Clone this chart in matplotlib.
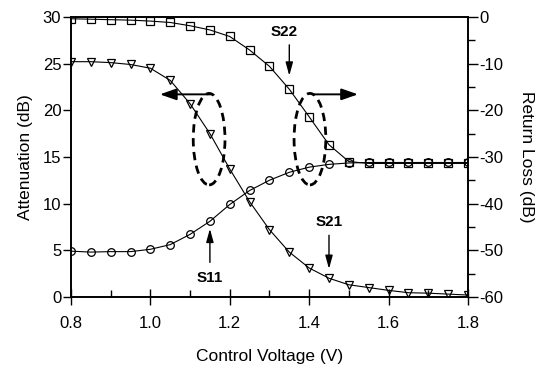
import numpy as np
import matplotlib.pyplot as plt
from matplotlib.patches import Ellipse
from matplotlib.ticker import MultipleLocator

plt.rcParams['font.family'] = ['Liberation Sans Narrow', 'Liberation Sans', 'DejaVu Sans']
plt.rcParams['axes.unicode_minus'] = False

# control voltage (V)
volt = [0.80, 0.85, 0.90, 0.95, 1.00, 1.05, 1.10, 1.15, 1.20, 1.25, 1.30,
        1.35, 1.40, 1.45, 1.50, 1.55, 1.60, 1.65, 1.70, 1.75, 1.80]
# S21 attenuation (dB), left axis
s21 = [25.2, 25.2, 25.1, 24.9, 24.5, 23.2, 20.7, 17.5, 13.7, 10.2, 7.2,
       4.8, 3.1, 2.0, 1.3, 1.0, 0.7, 0.45, 0.4, 0.3, 0.2]
# S11 return loss (dB), right axis
s11 = [-50.2, -50.4, -50.3, -50.3, -49.8, -48.8, -46.6, -43.8, -40.2, -37.2, -35.0,
       -33.3, -32.2, -31.6, -31.3, -31.2, -31.2, -31.2, -31.2, -31.2, -31.2]
# S22 return loss (dB), right axis
s22 = [-0.4, -0.5, -0.6, -0.7, -0.9, -1.2, -1.9, -2.8, -4.2, -7.1, -10.6,
       -15.5, -21.4, -27.4, -31.0, -31.4, -31.4, -31.4, -31.4, -31.4, -31.4]

fig = plt.figure(figsize=(5.46, 3.67), dpi=100)
ax = fig.add_axes([0.130, 0.191, 0.727, 0.763])
ax2 = ax.twinx()

kw = dict(color='black', lw=0.8, mfc='none', mec='black', mew=0.9, ms=5.5)
ax.plot(volt, s21, marker='v', **kw)
ax2.plot(volt, s11, marker='o', **kw)
ax2.plot(volt, s22, marker='s', **kw)

ax.set_xlim(0.8, 1.8)
ax.set_ylim(0, 30)
ax2.set_ylim(-60, 0)

ax.xaxis.set_major_locator(MultipleLocator(0.2))
ax.xaxis.set_minor_locator(MultipleLocator(0.1))
ax.yaxis.set_major_locator(MultipleLocator(5))
ax2.yaxis.set_major_locator(MultipleLocator(10))
ax2.yaxis.set_minor_locator(MultipleLocator(5))
ax.xaxis.set_major_formatter(plt.FuncFormatter(lambda v, p: f'{v:.1f}'))

ax.tick_params(axis='x', which='major', direction='inout', length=12, width=1, labelsize=12, pad=8)
ax.tick_params(axis='x', which='minor', direction='in', length=5, width=1)
ax.tick_params(axis='y', which='major', direction='out', length=6, width=1, labelsize=12, pad=1)
ax2.tick_params(axis='y', which='major', direction='out', length=7, width=1, labelsize=12, pad=1)
ax2.tick_params(axis='y', which='minor', direction='out', length=5, width=1)

for a in (ax, ax2):
    for s in a.spines.values():
        s.set_linewidth(1.2)

ax.set_xlabel('Control Voltage (V)', fontsize=12.5, labelpad=13)
ax.set_ylabel('Attenuation (dB)', fontsize=12.5, labelpad=7)
ax2.set_ylabel('Return Loss (dB)', fontsize=12.5, rotation=270, labelpad=22)

# dashed ellipses and direction arrows
for cx in (1.148, 1.402):
    ax.add_patch(Ellipse((cx, 16.9), 0.08, 9.8, fill=False, ls=(0, (3, 2)), lw=2, ec='black'))
arr = dict(arrowstyle='-|>,head_length=1.0,head_width=0.35', color='black', lw=1.4)
ax.annotate('', xy=(1.017, 21.7), xytext=(1.158, 21.7), arrowprops=arr)
ax.annotate('', xy=(1.53, 21.7), xytext=(1.405, 21.7), arrowprops=arr)

# labels with arrows
arr2 = dict(arrowstyle='-|>,head_length=0.8,head_width=0.22', color='black', lw=1.0)
ax.annotate('', xy=(1.35, 23.4), xytext=(1.35, 27.3), arrowprops=arr2)
ax.text(1.338, 28.4, 'S22', fontsize=11, fontweight='bold', ha='center', va='center')
ax.annotate('', xy=(1.15, 7.6), xytext=(1.15, 3.4), arrowprops=arr2)
ax.text(1.15, 2.0, 'S11', fontsize=11, fontweight='bold', ha='center', va='center')
ax.annotate('', xy=(1.45, 2.7), xytext=(1.45, 6.9), arrowprops=arr2)
ax.text(1.45, 8.0, 'S21', fontsize=11, fontweight='bold', ha='center', va='center')

fig.savefig('out.png', dpi=100)
